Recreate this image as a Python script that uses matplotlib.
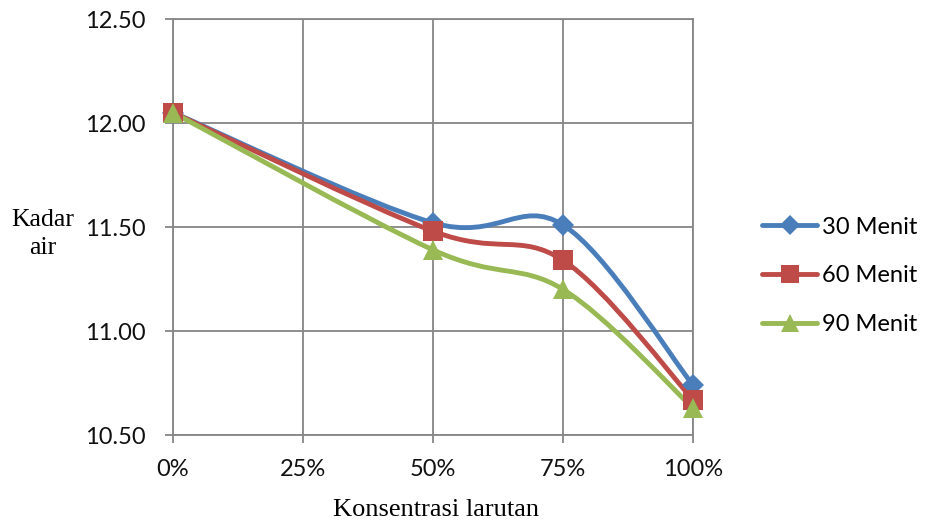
import numpy as np
import matplotlib
matplotlib.use("Agg")
import matplotlib.pyplot as plt
from matplotlib.path import Path
from matplotlib.patches import PathPatch
from matplotlib.lines import Line2D

categories = ["0%", "25%", "50%", "75%", "100%"]
x_idx = [0, 2, 3, 4]  # categories with data
series_names = ["30 Menit", "60 Menit", "90 Menit"]
vals_30 = [12.05, 11.52, 11.51, 10.74]
vals_60 = [12.05, 11.48, 11.34, 10.67]
vals_90 = [12.05, 11.39, 11.20, 10.63]
colors = ["#4A7EBB", "#BE4B48", "#98B954"]
markers = ["D", "s", "^"]
msizes = [11.5, 14, 15]

fig = plt.figure(figsize=(9.25, 5.22), dpi=100)
L, R, T, B = 173/925, 693/925, 19/522, 435/522
ax = fig.add_axes([L, 1-B, R-L, B-T])
ax.set_xlim(0, 4)
ax.set_ylim(10.5, 12.5)

sx = (693-173)/4.0
sy = (435-19)/2.0

def smooth_path(xs, ys):
    P = np.column_stack([np.array(xs, float)*sx, np.array(ys, float)*sy])
    n = len(P)
    verts = [P[0]]
    codes = [Path.MOVETO]
    for i in range(n-1):
        p0 = P[i-1] if i > 0 else P[i]
        p1 = P[i]
        p2 = P[i+1]
        p3 = P[i+2] if i+2 < n else P[i+1]
        c1 = p1 + (p2 - p0)/6.0
        c2 = p2 - (p3 - p1)/6.0
        verts += [c1, c2, p2]
        codes += [Path.CURVE4]*3
    V = np.array(verts)
    V[:, 0] /= sx
    V[:, 1] /= sy
    return Path(V, codes)

for vals, c, m, ms in zip([vals_30, vals_60, vals_90], colors, markers, msizes):
    patch = PathPatch(smooth_path(x_idx, vals), facecolor="none", edgecolor=c,
                      lw=3.5, capstyle="round", joinstyle="round", zorder=3)
    ax.add_patch(patch)
    ax.plot(x_idx, vals, linestyle="none", marker=m, color=c, markersize=ms,
            markeredgewidth=0, zorder=4, clip_on=False)

ax.set_xticks(range(len(categories)))
ax.set_xticklabels(categories)
yt = [10.5, 11.0, 11.5, 12.0, 12.5]
ax.set_yticks(yt)
ax.set_yticklabels([f"{v:.2f}" for v in yt])
gc = "#868686"
ax.grid(True, color=gc, lw=1.3)
ax.set_axisbelow(True)
for s in ax.spines.values():
    s.set_color(gc)
    s.set_linewidth(1.3)
ax.tick_params(axis="both", color=gc, width=1.3, length=6, direction="out",
               labelsize=17)
ax.tick_params(axis="y", pad=14)
ax.tick_params(axis="x", pad=11)
for lab in ax.get_xticklabels() + ax.get_yticklabels():
    lab.set_family("Lato")
    lab.set_color("#111111")

fig.text(43/925, 1-234/522, "Kadar\nair", ha="center", va="center",
         family="Liberation Serif", fontsize=18.5, linespacing=1.4)
fig.text(436/925, 1-510/522, "Konsentrasi larutan", ha="center", va="center",
         family="Liberation Serif", fontsize=19)

handles = [Line2D([0], [0], color=c, lw=3.5, marker=m, markersize=ms*0.9, markeredgewidth=0,
                  solid_capstyle="round")
           for c, m, ms in zip(colors, markers, msizes)]
leg = fig.legend(handles, series_names, loc="center left",
                 bbox_to_anchor=(762/925, 1-276/522), frameon=False,
                 borderpad=0, borderaxespad=0,
                 handlelength=2.35, handletextpad=0.17, labelspacing=1.18,
                 prop={"family": "Lato", "size": 17})

fig.savefig("out.png", dpi=100)
